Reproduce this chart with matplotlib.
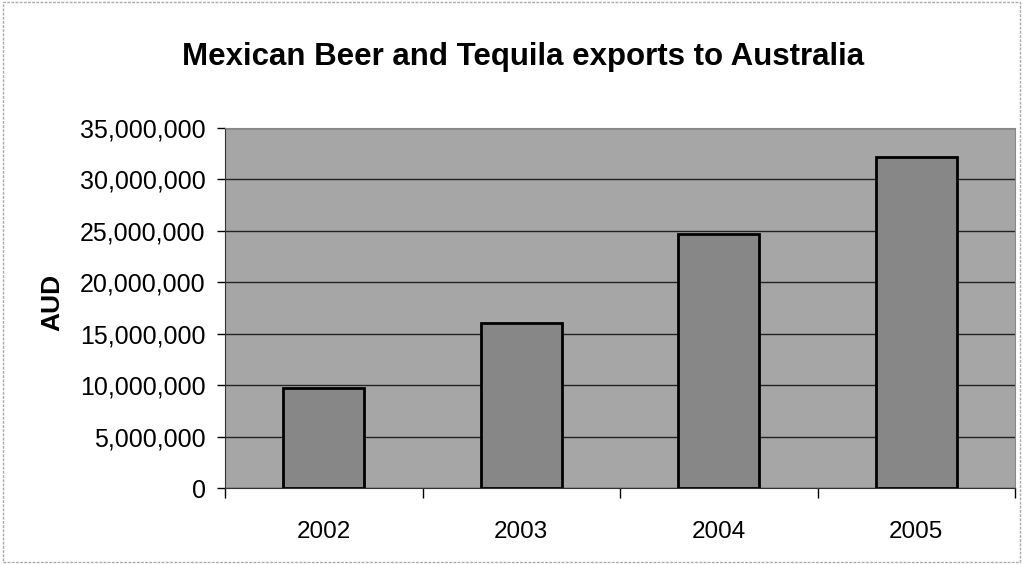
import matplotlib
matplotlib.use("Agg")
import matplotlib.pyplot as plt
from matplotlib.ticker import FuncFormatter, FixedLocator
import numpy as np

years = ["2002", "2003", "2004", "2005"]
values = [9700000, 16050000, 24700000, 32150000]
yticks = [0, 5000000, 10000000, 15000000, 20000000, 25000000, 30000000, 35000000]

plt.rcParams['font.family'] = ['Liberation Sans', 'DejaVu Sans']

W, H = 1023, 564
fig = plt.figure(figsize=(W/100, H/100), dpi=100)
fig.patch.set_facecolor('white')
ax = fig.add_axes([225/W, 1-488/H, (1015-225)/W, (488-128)/H])
ax.set_facecolor('#a6a6a6')

x = np.arange(len(years))
ax.bar(x, values, width=0.41, color='#878787', edgecolor='black', linewidth=2, zorder=3)

ax.set_xlim(-0.5, 3.5)
ax.set_ylim(0, 35000000)
ax.set_yticks(yticks)
ax.yaxis.set_major_formatter(FuncFormatter(lambda v, p: f"{int(v):,}"))
ax.set_xticks(x)
ax.set_xticklabels(years)
ax.xaxis.set_minor_locator(FixedLocator(np.arange(-0.5, 4.0, 1.0)))
ax.tick_params(axis='x', which='major', length=0, pad=24, labelsize=17.5)
ax.tick_params(axis='x', which='minor', length=7, width=1, direction='out')
ax.tick_params(axis='y', length=6, width=1, direction='out', labelsize=18, pad=8)
ax.grid(axis='y', color='#222222', linewidth=1, zorder=1)

for side in ['top', 'right']:
    ax.spines[side].set_color('#888888')
    ax.spines[side].set_linewidth(0.8)
ax.spines['left'].set_color('#333333')
ax.spines['bottom'].set_color('#333333')

fig.text(52/W, 1-302/H, "AUD", rotation=90, ha='center', va='center',
         fontsize=19, fontweight='bold')
fig.text(523/W, 1-65/H, "Mexican Beer and Tequila exports to Australia",
         ha='center', va='baseline', fontsize=22.5, fontweight='bold')

# thin border around figure
border = plt.Rectangle((3/W, 2/H), (W-6)/W, (H-4)/H, transform=fig.transFigure,
                       fill=False, edgecolor='#aaaaaa', linewidth=1, linestyle=(0, (2, 1)))
fig.patches.append(border)

fig.savefig("out.png", dpi=100)
